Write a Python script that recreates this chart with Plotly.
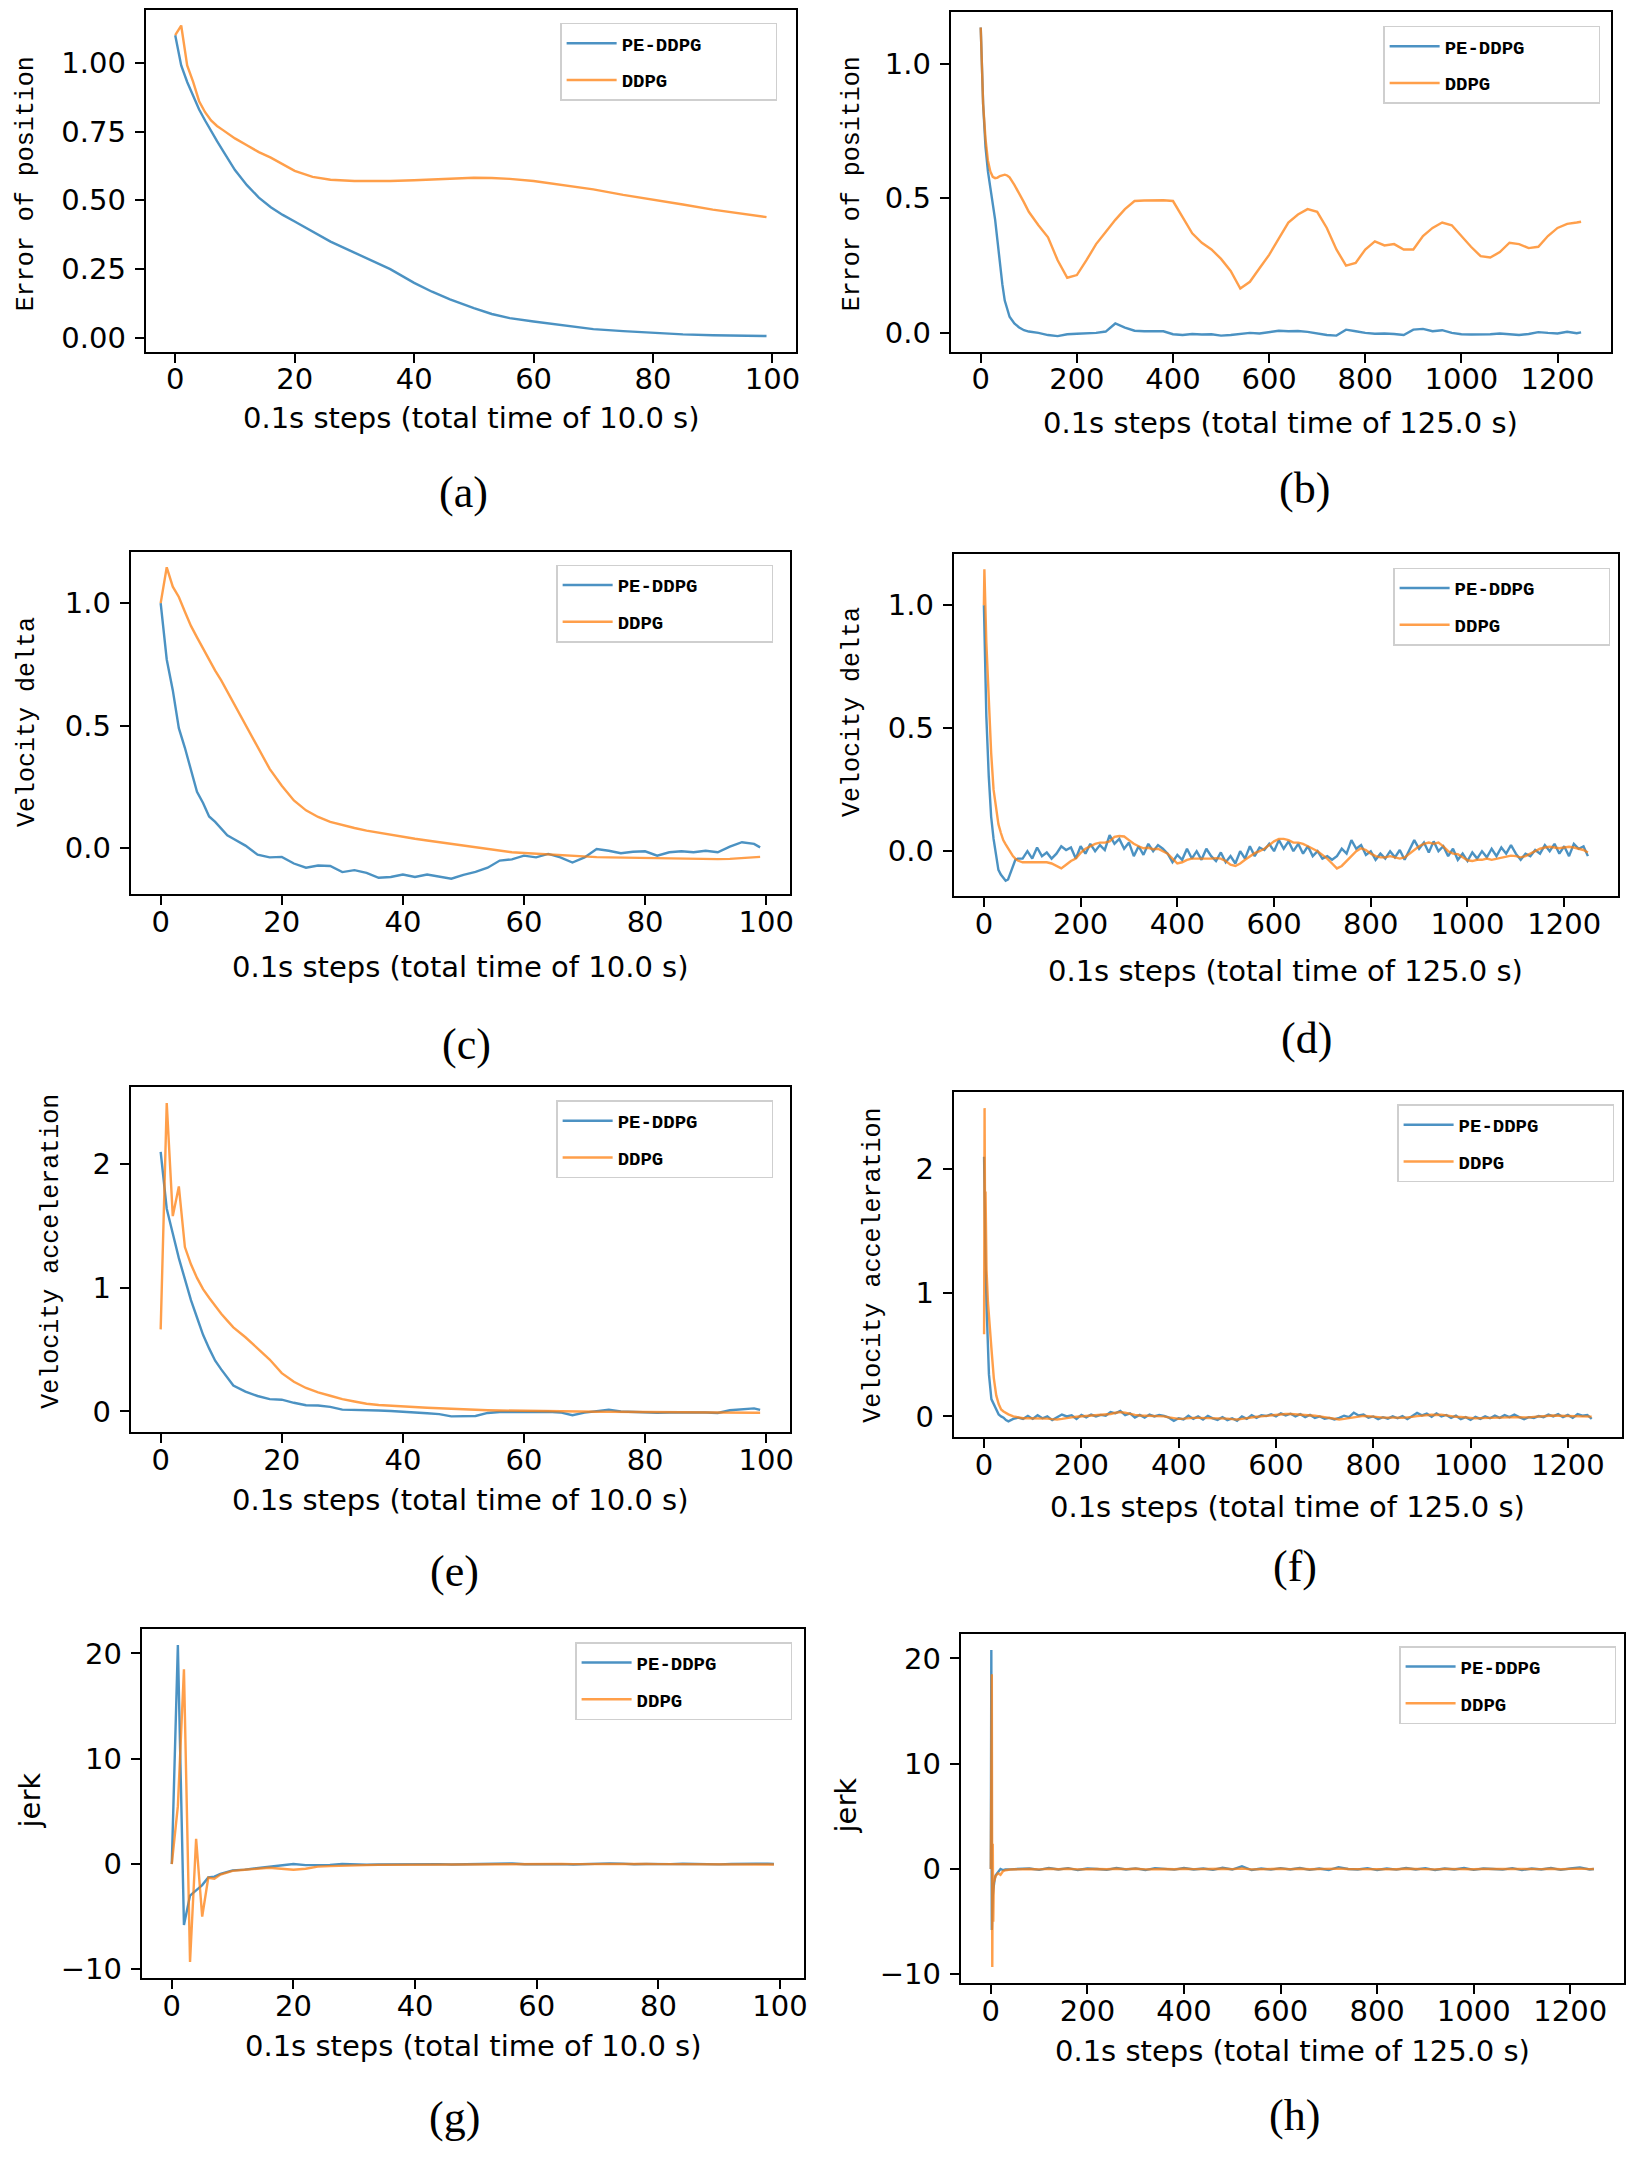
import plotly.graph_objects as go

W, H = 1650, 2163
BLUE = '#1f77b4'
ORANGE = '#ff7f0e'
NAMES = ['PE-DDPG', 'DDPG']
X_TITLE_10 = '0.1s steps (total time of 10.0 s)'
X_TITLE_125 = '0.1s steps (total time of 125.0 s)'

# ---------------- (a) Error of position, 10 s ----------------
X_A = [0, 1, 2, 3, 4, 5, 6, 7, 8, 10, 12, 14, 16, 18, 20, 23, 26, 30, 33, 36, 40, 43, 46, 50,
       53, 56, 60, 65, 70, 75, 80, 85, 90, 95, 99]
A_PE = [1.10, 0.99, 0.93, 0.88, 0.83, 0.79, 0.75, 0.715, 0.68,
        0.61, 0.555, 0.51, 0.475, 0.447, 0.423,
        0.385, 0.35, 0.31, 0.28, 0.25, 0.20, 0.168, 0.14, 0.108, 0.087, 0.072, 0.06,
        0.045, 0.032, 0.025, 0.018, 0.013, 0.01, 0.008, 0.007]
A_DD = [1.10, 1.135, 0.99, 0.93, 0.86, 0.82, 0.79, 0.77, 0.755,
        0.725, 0.70, 0.675, 0.655, 0.63, 0.607,
        0.585, 0.575, 0.57, 0.569, 0.57, 0.573, 0.576, 0.579, 0.582, 0.581, 0.578, 0.57,
        0.556, 0.54, 0.52, 0.503, 0.485, 0.466, 0.45, 0.439]

# ---------------- (b) Error of position, 125 s ----------------
X_B = [0, 5, 10, 15, 20, 25, 30, 35, 40, 45, 50, 55, 60, 70, 80, 90, 100] + list(range(120, 1241, 20)) + [1249]
B_PE = [1.135, 0.85, 0.69, 0.60, 0.54, 0.48, 0.42, 0.34, 0.255, 0.18, 0.12, 0.085, 0.06, 0.035, 0.02, 0.01, 0.005,
        0.0, -0.008, -0.012, -0.005, -0.003, -0.002, 0.0, 0.005, 0.035, 0.02,
        0.008, 0.006, 0.005, 0.006, -0.005, -0.008, -0.004, -0.006, -0.005, -0.01,
        -0.008, -0.005, 0.0, -0.002, 0.003, 0.008, 0.006, 0.007, 0.004, -0.003,
        -0.008, -0.01, 0.012, 0.006, 0.0, -0.003, -0.002, -0.004, -0.008, 0.012,
        0.015, 0.006, 0.01, 0.0, -0.005, -0.006, -0.006, -0.005, -0.002, -0.006,
        -0.008, -0.004, 0.003, 0.0, -0.002, 0.004, -0.001, 0.002]
B_DD = [1.135, 0.85, 0.72, 0.64, 0.60, 0.58, 0.575, 0.577, 0.583, 0.587, 0.588, 0.585, 0.578, 0.55, 0.52, 0.485, 0.45,
        0.40, 0.355, 0.27, 0.205, 0.215, 0.27, 0.33, 0.375, 0.42, 0.46,
        0.49, 0.492, 0.492, 0.493, 0.49, 0.43, 0.37, 0.335, 0.31, 0.275,
        0.23, 0.165, 0.19, 0.24, 0.29, 0.35, 0.41, 0.44, 0.46, 0.45,
        0.39, 0.31, 0.25, 0.26, 0.31, 0.34, 0.325, 0.33, 0.31, 0.31,
        0.36, 0.39, 0.41, 0.40, 0.36, 0.32, 0.285, 0.28, 0.30, 0.335,
        0.33, 0.315, 0.32, 0.36, 0.39, 0.405, 0.41, 0.413]

# ---------------- (c) Velocity delta, 10 s ----------------
X_C = list(range(0, 13)) + list(range(14, 99, 2)) + [99]
C_PE = [1.0, 0.77, 0.645, 0.49, 0.41, 0.325, 0.23, 0.185, 0.13, 0.108, 0.08, 0.053, 0.039,
        0.011, -0.026, -0.037, -0.035, -0.062, -0.079, -0.07, -0.072, -0.097, -0.089,
        -0.10, -0.12, -0.117, -0.107, -0.117, -0.107, -0.117, -0.124, -0.108, -0.096,
        -0.079, -0.05, -0.045, -0.03, -0.037, -0.023, -0.037, -0.058, -0.037, -0.003,
        -0.01, -0.02, -0.014, -0.012, -0.03, -0.016, -0.012, -0.016, -0.01, -0.016,
        0.007, 0.025, 0.018,
        0.004]
C_DD = [1.0, 1.146, 1.067, 1.025, 0.965, 0.907, 0.86, 0.815, 0.768, 0.725, 0.685, 0.64, 0.595,
        0.50, 0.41, 0.324, 0.255, 0.195, 0.155, 0.128, 0.108, 0.094, 0.083,
        0.072, 0.063, 0.054, 0.046, 0.039, 0.032, 0.025, 0.018, 0.011, 0.004,
        -0.005, -0.011, -0.016, -0.019, -0.022, -0.025, -0.028, -0.031, -0.035, -0.036,
        -0.037, -0.038, -0.039, -0.04, -0.041, -0.042, -0.042, -0.043, -0.044, -0.044,
        -0.043, -0.041, -0.037,
        -0.035]

# ---------------- (d) Velocity delta, 125 s ----------------
X_D = [0, 1, 5, 10, 15, 20, 25, 30, 35, 40, 45, 50, 55, 60, 65, 70] + list(range(80, 1241, 10)) + [1249]
D_PE = [1.0, 0.9, 0.55, 0.306, 0.14, 0.05, -0.02, -0.076, -0.095, -0.11, -0.12, -0.115, -0.09, -0.06, -0.035, -0.03,
        -0.03, 0.0, -0.03, 0.015, -0.02, -0.005, -0.03, -0.01, 0.02, 0.005,
        0.015, -0.03, 0.02, -0.01, 0.03, 0.0, 0.025, 0.005, 0.065, 0.03,
        0.05, 0.01, 0.035, -0.02, 0.02, -0.015, 0.03, 0.0, 0.025, 0.01,
        -0.01, -0.045, -0.015, -0.035, 0.01, -0.03, 0.0, -0.035, 0.01, -0.02,
        -0.04, -0.005, -0.045, -0.02, -0.05, 0.0, -0.03, 0.02, -0.02, 0.015,
        0.005, 0.03, 0.0, 0.045, 0.01, 0.04, 0.0, 0.03, -0.01, 0.02,
        -0.02, 0.0, -0.03, -0.02, -0.035, -0.02, 0.01, -0.01, 0.045, 0.01,
        0.025, -0.015, 0.0, -0.035, -0.01, -0.03, 0.0, -0.025, 0.005, -0.035,
        0.005, 0.045, 0.01, 0.035, -0.005, 0.04, 0.0, 0.02, -0.02, 0.01,
        -0.035, -0.01, -0.04, -0.005, -0.03, 0.0, -0.025, 0.01, -0.02, 0.015,
        -0.01, 0.025, -0.01, -0.035, -0.01, -0.02, 0.005, -0.01, 0.025, 0.0,
        0.03, -0.01, 0.02, -0.02, 0.03, 0.01, 0.02, -0.02]
D_DD = [1.0, 1.146, 0.85, 0.61, 0.40, 0.25, 0.17, 0.11, 0.075, 0.045, 0.028, 0.01, -0.005, -0.02, -0.03, -0.038,
        -0.045, -0.045, -0.045, -0.044, -0.045, -0.045, -0.05, -0.06, -0.07, -0.055,
        -0.04, -0.03, -0.007, 0.01, 0.02, 0.03, 0.035, 0.035, 0.04, 0.058,
        0.062, 0.06, 0.045, 0.03, 0.02, 0.012, 0.014, 0.008, 0.01, 0.0,
        -0.01, -0.03, -0.05, -0.045, -0.035, -0.03, -0.03, -0.03, -0.032, -0.03,
        -0.028, -0.03, -0.04, -0.055, -0.06, -0.05, -0.035, -0.02, -0.008, 0.0,
        0.01, 0.025, 0.04, 0.05, 0.05, 0.045, 0.035, 0.035, 0.03, 0.02,
        0.01, 0.0, -0.015, -0.03, -0.05, -0.07, -0.06, -0.04, -0.02, 0.0,
        0.012, 0.005, -0.01, -0.02, -0.025, -0.025, -0.02, -0.025, -0.03, -0.025,
        -0.01, 0.005, 0.02, 0.03, 0.035, 0.03, 0.035, 0.02, 0.0, -0.01,
        -0.012, -0.025, -0.037, -0.04, -0.035, -0.035, -0.03, -0.035, -0.03, -0.025,
        -0.02, -0.018, -0.02, -0.025, -0.02, -0.01, 0.0, 0.01, 0.015, 0.018,
        0.015, 0.012, 0.015, 0.018, 0.015, 0.01, 0.005, -0.005]

# ---------------- (e) Velocity acceleration, 10 s ----------------
X_E = list(range(0, 13)) + list(range(14, 99, 2)) + [99]
E_PE = [2.1, 1.64, 1.44, 1.24, 1.07, 0.90, 0.76, 0.62, 0.51, 0.41, 0.34, 0.27, 0.21,
        0.16, 0.125, 0.10, 0.095, 0.07, 0.05, 0.048, 0.037, 0.015, 0.014,
        0.012, 0.008, 0.004, -0.005, -0.008, -0.015, -0.022, -0.04, -0.04, -0.037,
        -0.012, -0.005, -0.005, -0.004, -0.003, -0.002, -0.008, -0.03, -0.01, 0.005,
        0.014, 0.0, -0.004, -0.005, -0.01, -0.008, -0.005, -0.008, -0.009, -0.012,
        0.01, 0.02, 0.025,
        0.012]
E_DD = [0.664, 2.494, 1.58, 1.82, 1.33, 1.19, 1.08, 0.99, 0.92, 0.85, 0.79, 0.735, 0.68,
        0.60, 0.51, 0.42, 0.31, 0.24, 0.19, 0.155, 0.127, 0.10, 0.08,
        0.062, 0.052, 0.045, 0.04, 0.035, 0.03, 0.026, 0.021, 0.017, 0.014,
        0.01, 0.008, 0.006, 0.005, 0.004, 0.003, 0.002, 0.0, 0.0, -0.002,
        -0.003, -0.004, -0.005, -0.005, -0.006, -0.007, -0.008, -0.009, -0.01, -0.012,
        -0.012, -0.011, -0.01,
        -0.01]

# ---------------- (f) Velocity acceleration, 125 s ----------------
X_F = [0, 1, 2, 3, 5, 8, 10, 15, 20, 25, 30, 35, 40, 45, 50, 60] + list(range(70, 1241, 10)) + [1249]
F_PE = [2.1, 1.64, 1.44, 1.24, 0.9, 0.51, 0.34, 0.14, 0.095, 0.05, 0.015, 0.0, -0.01, -0.03, -0.04, -0.02,
        -0.01, -0.02, 0.005, -0.02, 0.01, -0.015, 0.0, -0.03, -0.01, 0.015,
        0.0, 0.01, -0.02, 0.012, -0.008, 0.015, 0.0, 0.012, 0.005, 0.035,
        0.025, 0.045, 0.01, 0.025, -0.01, 0.012, -0.01, 0.015, 0.0, 0.012,
        0.005, -0.01, -0.035, -0.015, -0.025, 0.005, -0.02, 0.0, -0.025, 0.005,
        -0.015, -0.028, -0.005, -0.03, -0.015, -0.035, 0.0, -0.02, 0.01, -0.012,
        0.01, 0.003, 0.018, 0.0, 0.025, 0.008, 0.022, 0.0, 0.018, -0.005,
        0.012, -0.012, 0.0, -0.018, -0.012, -0.025, -0.012, 0.006, -0.006, 0.03,
        0.008, 0.015, -0.01, 0.0, -0.022, -0.006, -0.018, 0.0, -0.015, 0.003,
        -0.022, 0.003, 0.028, 0.008, 0.022, -0.003, 0.025, 0.0, 0.012, -0.012,
        0.006, -0.022, -0.006, -0.028, -0.003, -0.02, 0.0, -0.015, 0.006, -0.012,
        0.01, -0.006, 0.015, -0.006, -0.022, -0.006, -0.012, 0.003, -0.006, 0.015,
        0.0, 0.018, -0.006, 0.012, -0.012, 0.018, 0.006, 0.012, -0.02]
F_DD = [0.664, 2.494, 1.58, 1.82, 1.19, 0.92, 0.79, 0.555, 0.31, 0.17, 0.10, 0.056, 0.04, 0.028, 0.017, 0.0,
        -0.01, -0.015, -0.015, -0.015, -0.015, -0.015, -0.018, -0.022, -0.025, -0.02,
        -0.012, -0.008, -0.003, 0.0, 0.003, 0.005, 0.008, 0.01, 0.012, 0.02,
        0.03, 0.035, 0.03, 0.02, 0.012, 0.008, 0.006, 0.005, 0.005, 0.003,
        0.0, -0.008, -0.015, -0.02, -0.018, -0.013, -0.012, -0.012, -0.012, -0.012,
        -0.012, -0.012, -0.014, -0.018, -0.022, -0.025, -0.02, -0.013, -0.007, -0.003,
        0.0, 0.004, 0.01, 0.015, 0.018, 0.02, 0.02, 0.018, 0.015, 0.014,
        0.01, 0.006, 0.0, -0.006, -0.012, -0.02, -0.025, -0.02, -0.013, -0.006,
        0.0, 0.004, 0.002, -0.003, -0.008, -0.01, -0.01, -0.008, -0.01, -0.012,
        -0.01, -0.004, 0.002, 0.008, 0.012, 0.014, 0.012, 0.014, 0.008, 0.0,
        -0.004, -0.005, -0.01, -0.014, -0.016, -0.014, -0.014, -0.012, -0.014, -0.012,
        -0.01, -0.008, -0.007, -0.008, -0.01, -0.008, -0.004, 0.0, 0.004, 0.006,
        0.007, 0.006, 0.005, 0.006, 0.007, 0.006, 0.004, 0.002, -0.002]

# ---------------- (g) jerk, 10 s ----------------
X_G = list(range(0, 11)) + list(range(12, 99, 2)) + [99]
G_PE = [0.0, 20.8, -5.8, -3.0, -2.5, -2.0, -1.27, -1.2, -0.93, -0.75, -0.6,
        -0.53, -0.4, -0.28, -0.15, 0.0, -0.1, -0.12, -0.08, 0.0, -0.05,
        -0.06, -0.05, -0.03, -0.04, -0.02, -0.03, -0.01, -0.04, -0.02, -0.01,
        -0.03, 0.02, 0.05, -0.02, 0.0, -0.03, -0.01, -0.04, 0.0, 0.02,
        0.06, 0.04, -0.02, 0.0, -0.03, -0.01, 0.02, -0.02, 0.0, -0.03,
        0.0, -0.02, 0.03, 0.02,
        0.01]
G_DD = [0.0, 5.5, 18.5, -9.3, 2.4, -5.0, -1.3, -1.4, -1.0, -0.8, -0.65,
        -0.55, -0.45, -0.35, -0.45, -0.55, -0.45, -0.25, -0.2, -0.15, -0.12,
        -0.1, -0.08, -0.07, -0.06, -0.05, -0.05, -0.04, -0.04, -0.03, -0.03,
        -0.02, -0.01, 0.0, -0.01, 0.0, -0.01, 0.0, -0.01, 0.0, 0.01,
        0.02, 0.02, 0.0, 0.0, -0.01, -0.01, 0.0, -0.01, 0.0, -0.01,
        0.0, -0.01, 0.0, -0.02,
        -0.05]

# ---------------- (h) jerk, 125 s ----------------
X_H = [0, 1, 2, 3, 4, 5, 6, 8, 10, 15, 20, 25, 30, 40, 50, 60] + list(range(80, 1241, 20)) + [1249]
H_PE = [0.0, 20.8, -5.8, -3.0, -2.5, -2.0, -1.27, -0.93, -0.6, -0.35, 0.0, -0.1, -0.05, -0.03, -0.02, 0.02,
        0.05, -0.08, 0.1, -0.05, 0.08, -0.1, 0.05, 0.0, -0.08, 0.1,
        -0.05, 0.06, -0.1, 0.08, 0.0, -0.06, 0.1, -0.05, 0.05, -0.08,
        0.12, -0.05, 0.25, -0.1, 0.05, -0.06, 0.08, -0.05, 0.1, -0.08,
        0.05, -0.1, 0.18, 0.0, -0.05, 0.08, -0.1, 0.05, -0.06, 0.1,
        -0.05, 0.08, -0.1, 0.05, -0.05, 0.1, -0.08, 0.05, 0.0, -0.06,
        0.08, -0.1, 0.05, -0.05, 0.1, -0.08, 0.05, 0.15, -0.05, 0.0]
H_DD = [0.0, 5.5, 18.5, -9.3, 2.4, -5.0, -1.3, -1.0, -0.65, -0.4, -0.55, -0.22, -0.12, -0.05, -0.03, 0.0,
        0.0, -0.03, 0.02, -0.02, 0.03, -0.03, 0.01, 0.0, -0.02, 0.03,
        -0.01, 0.02, -0.03, 0.02, 0.0, -0.02, 0.03, -0.01, 0.01, -0.02,
        0.03, -0.01, 0.05, -0.03, 0.01, -0.02, 0.02, -0.01, 0.03, -0.02,
        0.01, -0.03, 0.04, 0.0, -0.01, 0.02, -0.03, 0.01, -0.02, 0.03,
        -0.01, 0.02, -0.03, 0.01, -0.01, 0.03, -0.02, 0.01, 0.0, -0.02,
        0.02, -0.03, 0.01, -0.01, 0.03, -0.02, 0.01, 0.04, -0.01, 0.0]

# tick definitions
XT_10 = [0, 20, 40, 60, 80, 100]
XT_125 = [0, 200, 400, 600, 800, 1000, 1200]
YT_A = [0.0, 0.25, 0.5, 0.75, 1.0]
YT_A_TXT = ['0.00', '0.25', '0.50', '0.75', '1.00']
YT_V = [0.0, 0.5, 1.0]
YT_V_TXT = ['0.0', '0.5', '1.0']
YT_ACC = [0, 1, 2]
YT_ACC_TXT = ['0', '1', '2']
YT_J = [-10, 0, 10, 20]
YT_J_TXT = ['\u221210', '0', '10', '20']

MONO = 'Liberation Mono'
SANS = 'DejaVu Sans'
SERIF = 'Liberation Serif'
TICK_SIZE = 29

# layout geometry (pixels): plot box, legend top-right, y-title centre, x-title y, caption centre
PANELS = [
    dict(cap='(a)', x=X_A, pe=A_PE, dd=A_DD, box=(148, 800, 7, 350), xt=XT_10, xtitle=X_TITLE_10,
         yt=YT_A, ytt=YT_A_TXT, ytitle='Error of position', yfont=MONO, ysize=25,
         leg=(781, 20), ypos=(28, 181), xty=417, cpos=(467, 492)),
    dict(cap='(b)', x=X_B, pe=B_PE, dd=B_DD, box=(955, 1617, 9, 350), xt=XT_125, xtitle=X_TITLE_125,
         yt=YT_V, ytt=YT_V_TXT, ytitle='Error of position', yfont=MONO, ysize=25,
         leg=(1606, 23), ypos=(856, 181), xty=422, cpos=(1310, 488)),
    dict(cap='(c)', x=X_C, pe=C_PE, dd=C_DD, box=(133, 794, 551, 895), xt=XT_10, xtitle=X_TITLE_10,
         yt=YT_V, ytt=YT_V_TXT, ytitle='Velocity delta', yfont=MONO, ysize=25,
         leg=(777, 564), ypos=(29, 722), xty=968, cpos=(470, 1046)),
    dict(cap='(d)', x=X_D, pe=D_PE, dd=D_DD, box=(958, 1624, 553, 897), xt=XT_125, xtitle=X_TITLE_125,
         yt=YT_V, ytt=YT_V_TXT, ytitle='Velocity delta', yfont=MONO, ysize=25,
         leg=(1616, 567), ypos=(856, 712), xty=972, cpos=(1312, 1040)),
    dict(cap='(e)', x=X_E, pe=E_PE, dd=E_DD, box=(133, 794, 1089, 1435), xt=XT_10, xtitle=X_TITLE_10,
         yt=YT_ACC, ytt=YT_ACC_TXT, ytitle='Velocity acceleration', yfont=MONO, ysize=25,
         leg=(777, 1102), ypos=(54, 1253), xty=1503, cpos=(458, 1575)),
    dict(cap='(f)', x=X_F, pe=F_PE, dd=F_DD, box=(958, 1628, 1094, 1440), xt=XT_125, xtitle=X_TITLE_125,
         yt=YT_ACC, ytt=YT_ACC_TXT, ytitle='Velocity acceleration', yfont=MONO, ysize=25,
         leg=(1620, 1106), ypos=(878, 1267), xty=1510, cpos=(1300, 1570)),
    dict(cap='(g)', x=X_G, pe=G_PE, dd=G_DD, box=(144, 808, 1633, 1983), xt=XT_10, xtitle=X_TITLE_10,
         yt=YT_J, ytt=YT_J_TXT, ytitle='jerk', yfont=SANS, ysize=29,
         leg=(796, 1646), ypos=(32, 1805), xty=2052, cpos=(458, 2123)),
    dict(cap='(h)', x=X_H, pe=H_PE, dd=H_DD, box=(965, 1630, 1638, 1988), xt=XT_125, xtitle=X_TITLE_125,
         yt=YT_J, ytt=YT_J_TXT, ytitle='jerk', yfont=SANS, ysize=29,
         leg=(1622, 1650), ypos=(851, 1810), xty=2057, cpos=(1300, 2121)),
]

DX, DY = -10, -5   # global calibration offset (pixels)


def px_x(p):
    return (p + DX) / W


def px_y(p):
    return 1 - (p + DY) / H


def padded(lo, hi):
    span = hi - lo
    return [lo - 0.05 * span, hi + 0.05 * span]


fig = go.Figure()
layout = dict(width=W, height=H, margin=dict(l=0, r=0, t=0, b=0),
              paper_bgcolor='white', plot_bgcolor='white', showlegend=True)
annotations = []
NBSP = '\u00a0' * 6

for i, p in enumerate(PANELS):
    n = i + 1
    xa = 'x' if n == 1 else f'x{n}'
    ya = 'y' if n == 1 else f'y{n}'
    leg = 'legend' if n == 1 else f'legend{n}'
    for name, ys, col, op in ((NAMES[0], p['pe'], BLUE, 0.8), (NAMES[1], p['dd'], ORANGE, 0.75)):
        fig.add_trace(go.Scatter(x=p['x'], y=ys, mode='lines', name=name + NBSP,
                                 line=dict(color=col, width=2.4), opacity=op,
                                 xaxis=xa, yaxis=ya, legend=leg,
                                 legendgroup=f'{leg}-{name}', hoverinfo='skip'))
    x0, x1, y0, y1 = p['box']
    allv = list(p['pe']) + list(p['dd'])
    common = dict(showline=True, mirror=True, linecolor='black', linewidth=2,
                  ticks='outside', ticklen=9, tickwidth=2, tickcolor='black',
                  showgrid=False, zeroline=False,
                  tickfont=dict(family=SANS, size=TICK_SIZE, color='black'))
    layout['xaxis' if n == 1 else f'xaxis{n}'] = dict(
        domain=[px_x(x0), px_x(x1)], range=padded(min(p['x']), max(p['x'])),
        anchor=ya, tickvals=p['xt'], ticktext=[str(v) for v in p['xt']],
        ticklabelstandoff=-8, **common)
    layout['yaxis' if n == 1 else f'yaxis{n}'] = dict(
        domain=[px_y(y1), px_y(y0)], range=padded(min(allv), max(allv)),
        anchor=xa, tickvals=p['yt'], ticktext=p['ytt'],
        ticklabelstandoff=3, **common)
    lx, ly = p['leg']
    layout[leg] = dict(x=px_x(lx), y=px_y(ly), xanchor='right', yanchor='top',
                       xref='paper', yref='paper',
                       bgcolor='white', bordercolor='#cfcfcf', borderwidth=1.5,
                       font=dict(family=MONO, size=19, color='black', weight='bold'),
                       itemwidth=50, tracegroupgap=9)
    # y title
    annotations.append(dict(x=px_x(p['ypos'][0]), y=px_y(p['ypos'][1]), xref='paper', yref='paper',
                            text=p['ytitle'], textangle=-90, showarrow=False,
                            xanchor='center', yanchor='middle',
                            font=dict(family=p['yfont'], size=p['ysize'], color='black')))
    # x title
    annotations.append(dict(x=px_x((x0 + x1) / 2), y=px_y(p['xty']), xref='paper', yref='paper',
                            text=p['xtitle'], showarrow=False, xanchor='center', yanchor='middle',
                            font=dict(family=SANS, size=TICK_SIZE, color='black')))
    # caption
    annotations.append(dict(x=px_x(p['cpos'][0]), y=px_y(p['cpos'][1]), xref='paper', yref='paper',
                            text=p['cap'], showarrow=False, xanchor='center', yanchor='middle',
                            font=dict(family=SERIF, size=44, color='black')))

layout['annotations'] = annotations
fig.update_layout(**layout)
fig.write_html('out.html')
